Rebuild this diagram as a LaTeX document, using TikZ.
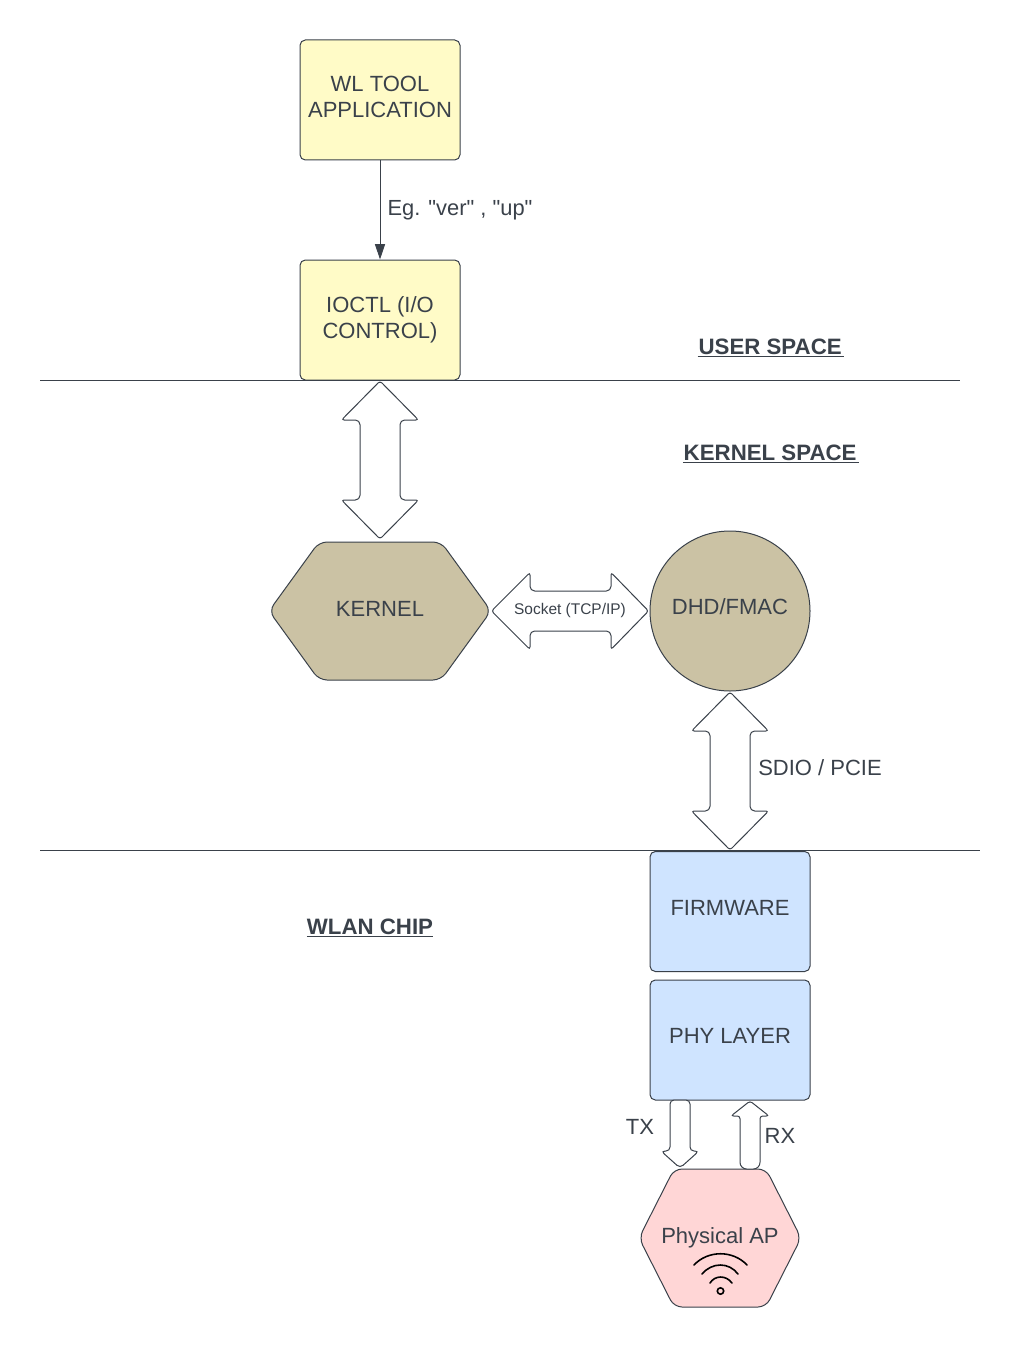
\documentclass[tikz,border=0pt]{standalone}
\usepackage{fontspec}
\usetikzlibrary{arrows.meta}
\setmainfont{Liberation Sans}
\newfontfamily\rawfont{Liberation Sans}
\definecolor{ink}{HTML}{3A414A}
\definecolor{yel}{HTML}{FFFBC7}
\definecolor{tan}{HTML}{CBC2A4}
\definecolor{blu}{HTML}{CFE4FF}
\definecolor{pnk}{HTML}{FFD6D6}
\newcommand{\dblV}[2]{%
  \draw[arrowshape,shift={(#1,#2)}] (0,-1) -- (38.5,38) [rounded corners=3.5pt] -- (20,38) -- (20,118) [rounded corners=2pt] -- (38.5,118) -- (0,157) -- (-38.5,118) [rounded corners=3.5pt] -- (-20,118) -- (-20,38) [rounded corners=2pt] -- (-38.5,38) -- cycle;}
\tikzset{
  x=0.75pt,y=-0.75pt,
  lbl/.style={text=ink,inner sep=0pt,align=center,font=\fontsize{16.5}{19.5}\selectfont},
  boldlbl/.style={text=ink,inner sep=0pt,font=\fontsize{16.7}{19.5}\selectfont\bfseries},
  boxnode/.style={draw=ink,line width=0.75pt,rounded corners=4pt,minimum width=120pt,minimum height=90pt,inner sep=0pt},
  arrowshape/.style={draw=ink,fill=white,line width=0.75pt,rounded corners=2pt},
  hex/.style={draw=ink,line width=0.75pt,rounded corners=6pt},
  rule/.style={draw=ink,line width=0.75pt},
  wifi/.style={draw=black,line width=1.2pt,line cap=round},
}
\begin{document}
\begin{tikzpicture}
\useasboundingbox (0,0) rectangle (1020,1348);
\fill[white] (0,0) rectangle (1020,1348);
% separators
\coordinate (u1) at (40,380.5); \coordinate (u2) at (960,380.5);
\coordinate (w1) at (40,850.5); \coordinate (w2) at (980,850.5);
% boxes
\node[boxnode,fill=yel] (tool) at (380,100) {};
\node[lbl] (toolt) at (380,96.5) {WL TOOL\\APPLICATION};
\node[boxnode,fill=yel] (ioctl) at (380,320) {};
\node[lbl] (ioctlt) at (380,319.5) {IOCTL (I/O\\CONTROL)};
\draw[rule] (u1) -- (u2);
\draw[rule] (w1) -- (w2);
\draw[draw=ink,line width=0.75pt,-{Triangle[length=11.5pt,width=7.5pt]}] (tool.south) -- (ioctl.north);
\node[lbl,anchor=center,font=\fontsize{16.4}{19.5}\selectfont] (eg) at (460,210) {\rawfont Eg. "ver" , "up"};
% space labels
\node[boldlbl] (user) at (771,348) {\underline{\hspace{0.7pt}USER SPACE\hspace{2pt}}};
\node[boldlbl] (kspace) at (771,454) {\underline{\hspace{0.7pt}KERNEL SPACE\hspace{2pt}}};
\node[boldlbl] (wlan) at (370,928) {\underline{WLAN CHIP}};
% kernel to ioctl
\dblV{380}{382}
% kernel
\draw[hex,fill=tan] (269,611) -- (319,542) -- (441,542) -- (491,611) -- (441,680) -- (319,680) -- cycle;
\node[lbl] (kernel) at (380,609) {KERNEL};
% socket
\draw[arrowshape] (491.5,611) -- (530,572.5) [rounded corners=3.5pt] -- (530,591) -- (611,591) [rounded corners=2pt] -- (611,572.5) -- (648.5,611) -- (611,649.5) [rounded corners=3.5pt] -- (611,631) -- (530,631) [rounded corners=2pt] -- (530,649.5) -- cycle;
\node[lbl,font=\fontsize{11.6}{14}\selectfont] (socket) at (570,610) {Socket (TCP/IP)};
% dhd
\node[circle,draw=ink,line width=0.75pt,fill=tan,minimum size=120pt,inner sep=0pt] (dhd) at (730,611) {};
\node[lbl] (dhdt) at (730,607) {DHD/FMAC};
% sdio
\dblV{730}{693}
\node[lbl] (sdio) at (820,768) {SDIO / PCIE};
% firmware, phy
\node[boxnode,fill=blu] (fw) at (730,911.5) {};
\node[lbl] (fwt) at (730,907.5) {FIRMWARE};
\node[boxnode,fill=blu] (phy) at (730,1040) {};
\node[lbl] (phyt) at (730,1036) {PHY LAYER};
% tx rx
\draw[arrowshape,rounded corners=3pt] (670,1100) -- (670,1151) -- (661,1151) -- (680,1168) -- (699,1151) -- (690,1151) -- (690,1100) -- cycle;
\node[lbl] (tx) at (640,1127) {TX};
% ap
\draw[hex,fill=pnk] (639,1238) -- (674,1169) -- (766,1169) -- (801,1238) -- (766,1307) -- (674,1307) -- cycle;
\draw[arrowshape] (750,1101) -- (769,1116) -- (760,1116) [rounded corners=5pt] -- (760,1169) -- (740,1169) [rounded corners=2pt] -- (740,1116) -- (731,1116) -- cycle;
\node[lbl] (rx) at (780,1136) {RX};
\node[lbl] (ap) at (720,1238) {Physical AP};
% wifi
\draw[wifi] (694,1265) .. controls (708,1250) and (733,1250) .. (747,1265);
\draw[wifi] (702,1274) .. controls (712,1262) and (729,1262) .. (738,1274);
\draw[wifi] (710,1283) .. controls (715,1275) and (726,1275) .. (732,1283);
\draw[draw=black,line width=1.2pt] (720.5,1291) circle[radius=3.2];
\end{tikzpicture}
\end{document}
